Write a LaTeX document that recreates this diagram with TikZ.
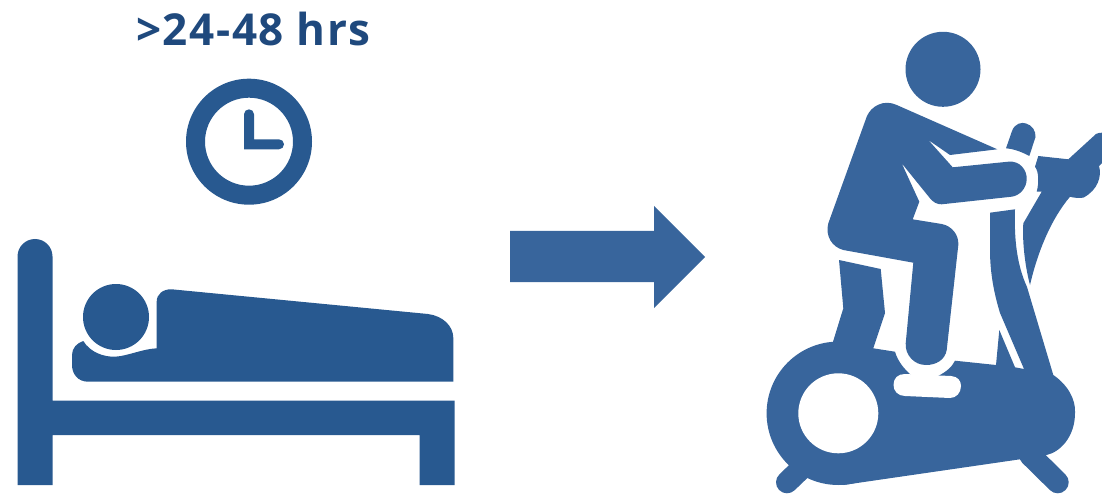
\documentclass[tikz,border=0pt]{standalone}
\usepackage{fontspec}
\newfontfamily\labelfont[LetterSpace=3.6]{Open Sans}
\definecolor{bedblue}{HTML}{285990}
\definecolor{bikeblue}{HTML}{38659C}
\definecolor{textblue}{HTML}{1F497D}
\tikzset{bedfill/.style={fill=bedblue,draw=none},bikefill/.style={fill=bikeblue,draw=none}}
\begin{document}
\begin{tikzpicture}[x=1pt,y=-1pt]
\useasboundingbox (0,0) rectangle (1102,494);
\node[font=\labelfont\fontsize{44}{48}\selectfont\bfseries,text=textblue,inner sep=0pt,anchor=base] (label) at (253.5,45.5) {>24-48 hrs};
% clock
\fill[bedblue,even odd rule] (249,141.7) circle (63) (249,141.7) circle (44);
\fill[bedblue] (244,149.3) -- (244,114.3) arc[start angle=180,end angle=360,radius=5] -- (254,139.3) -- (279,139.3) arc[start angle=-90,end angle=90,radius=5] -- cycle;
% bed
\path[bedfill] (17.5,485) -- (17.5,256.5) arc[start angle=180,end angle=360,radius=17.5] -- (52.5,400.5) -- (454.5,400.5) -- (454.5,485) -- (419.5,485) -- (419.5,435) -- (52.5,435) -- (52.5,485) -- cycle;
\fill[bedblue] (116,317) circle (33);
\path[bedfill] (156.7,348.3) -- (156.7,301.7) .. controls (156.7,294) and (163,289) .. (171.7,289.3) -- (428,314) .. controls (443,316) and (453.3,326) .. (453.3,338) -- (453.3,381.7) -- (88,381.7) .. controls (78,381.7) and (72,374) .. (72,365) -- (72,355) .. controls (72,348) and (77,343) .. (83.3,341) .. controls (90,352) and (103,357) .. (115,356.7) .. controls (128,356) and (142,349) .. (156.7,348.3) -- cycle;
% arrow
\path[bikefill] (510,231) -- (654,231) -- (654,206) -- (705,257) -- (654,308) -- (654,282) -- (510,282) -- cycle;
% bike feet
\draw[bikeblue,line width=22pt,line cap=round] (805,465) -- (787,482.3);
\draw[bikeblue,line width=22pt,line cap=round] (1030,455) -- (1057.7,482.3);
% bike frame
\fill[bikeblue] (838.3,413.3) circle (71.7);
\path[bikefill] (832.7,342.7) -- (843.3,308.3) -- (839,260) -- (880.7,269) -- (885,313) -- (873.3,348.3) -- (895,351.7) .. controls (898,362) and (905,370) .. (912.3,376) -- (938,376) .. controls (946,372) and (952,367) .. (955,360.7) -- (996,365) -- (999.3,330) -- (1015,367.3) -- (1024,369) -- (1000,313) .. controls (993,290) and (990,270) .. (990,250) -- (990,212.7) -- (1015,209.3) .. controls (1014,240) and (1017,265) .. (1027,287) -- (1053.3,375) .. controls (1068,385) and (1076,400) .. (1075,413) .. controls (1075,437) and (1060,452) .. (1046.7,455) -- (1020,459.3) -- (843.3,485) -- (838.3,413.3) -- cycle;
\fill[white] (838.3,413.3) circle (40);
\fill[white] (905,374) -- (951,376) .. controls (958,376.5) and (961,381) .. (961,386) .. controls (961,393) and (956,398) .. (950,398) -- (905,396) .. controls (898,396) and (893.5,391) .. (893.5,385) .. controls (893.5,378) and (898,374) .. (905,374) -- cycle;
% handle post top
\path[bikefill] (1006,148.3) -- (1012,131) .. controls (1015,123) and (1022,122) .. (1026,123.5) .. controls (1032,125) and (1036,131) .. (1035.5,137) -- (1029.3,156) .. controls (1022,152) and (1014,149) .. (1006,148.3) -- cycle;
% rear handle and sweep
\path[bikefill] (1038.3,156) -- (1068.3,159.3) -- (1096,134) .. controls (1098,133) and (1100,132.7) .. (1102,132.7) -- (1102,163) -- (1099,166) .. controls (1102,176) and (1098,190) .. (1083.3,197.7) .. controls (1078,198) and (1074,198) .. (1070,196.7) .. controls (1052,218) and (1038,250) .. (1030,285) .. controls (1026,270) and (1022,245) .. (1023.3,223.3) -- (1041.7,191.7) -- (1036.7,191.7) .. controls (1039,183) and (1039,172) .. (1035,166.7) -- cycle;
% rider
\fill[bikeblue] (943,69.3) circle (37.5);
\path[bikefill] (896.7,105) -- (997.3,149.3) -- (950,155) -- (928.3,140) -- (952.7,167.3) -- (1008.3,161.7) .. controls (1020,160.5) and (1027,170) .. (1026.7,179.3) .. controls (1026.5,188) and (1020,195.5) .. (1011.7,196.7) -- (941.7,204.3) .. controls (937,204.5) and (933,202) .. (930,198.3) -- (901.7,163.3) -- (919.3,201.7) -- (912.7,219.3) -- (941.7,224) .. controls (952,226) and (959,235) .. (958.3,245) -- (946.7,350) .. controls (945,360) and (936,365) .. (926,365) .. controls (914,365) and (905,355) .. (905.7,343.3) -- (913.3,262.7) -- (843.3,250) .. controls (832,247) and (825,236) .. (828.3,223.3) -- (866.7,116.7) .. controls (871,106) and (884,99) .. (896.7,105) -- cycle;
\end{tikzpicture}
\end{document}
